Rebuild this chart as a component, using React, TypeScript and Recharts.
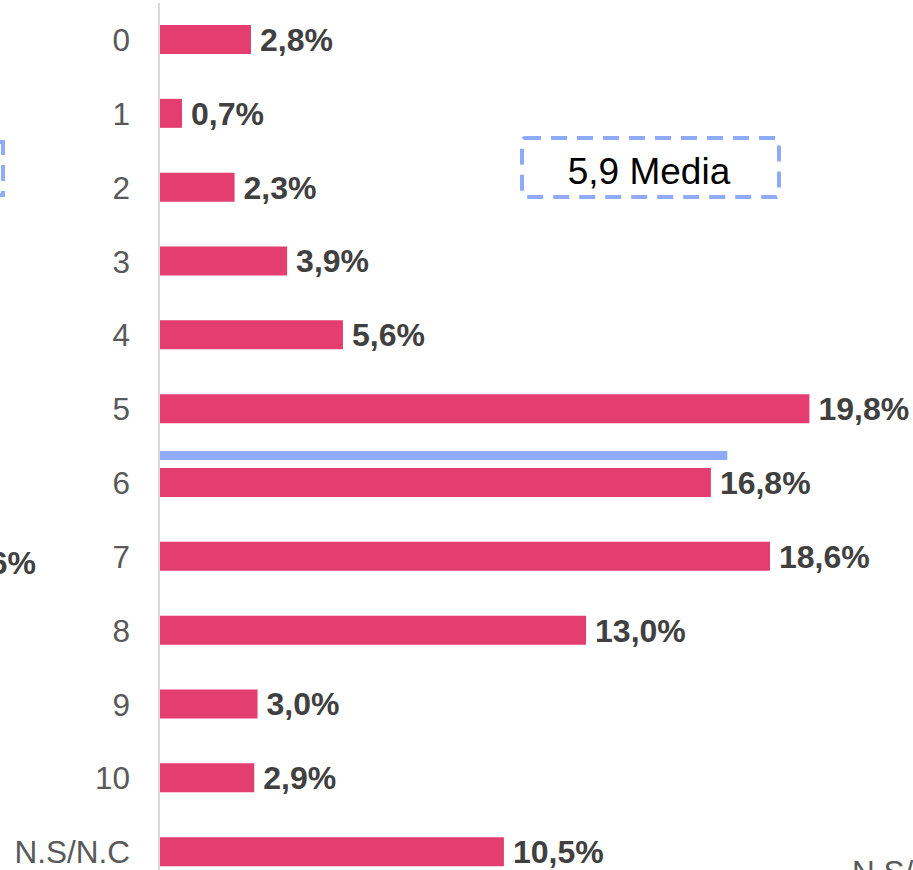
import React from "react";
import { BarChart, Bar, XAxis, YAxis, LabelList } from "recharts";

const categories = ["0", "1", "2", "3", "4", "5", "6", "7", "8", "9", "10", "N.S/N.C"];
const values = [2.8, 0.7, 2.3, 3.9, 5.6, 19.8, 16.8, 18.6, 13.0, 3.0, 2.9, 10.5];
// blue marker drawn just above the "6" bar (media 5,9)
const mediaMarker = [0, 0, 0, 0, 0, 0, 17.3, 0, 0, 0, 0, 0];
const mediaText = "5,9 Media";

const data = categories.map((name, i) => ({
  name,
  value: values[i],
  media: mediaMarker[i] || null,
}));

const PINK = "#E43E70";
const BLUE = "#8FAAF8";

function fmt(v: number): string {
  return `${v.toFixed(1).replace(".", ",")}%`;
}

function MediaShape(props: any) {
  const { x, y, width } = props;
  if (!width) return null;
  return <rect x={x} y={y - 17} width={width} height={9} fill={BLUE} />;
}

export default function App() {
  return (
    <div
      style={{
        position: "absolute",
        left: 0,
        top: 0,
        width: 913,
        height: 870,
        overflow: "hidden",
        background: "#fff",
        fontFamily: "'Liberation Sans', Arial, sans-serif",
      }}
    >
      <BarChart
        width={913}
        height={889}
        data={data}
        layout="vertical"
        margin={{ top: 3, right: 97, bottom: 0, left: 0 }}
        barSize={29}
        barGap={-29}
      >
        <XAxis type="number" domain={[0, 20]} hide />
        <YAxis
          type="category"
          dataKey="name"
          width={159}
          tickLine={false}
          tickMargin={23}
          axisLine={{ stroke: "#D9D9D9", strokeWidth: 2 }}
          tick={{ fontSize: 31.5, fill: "#595959" }}
        />
        <Bar dataKey="value" fill={PINK} isAnimationActive={false}>
          <LabelList
            dataKey="value"
            position="right"
            offset={9}
            formatter={(v: any) => fmt(Number(v))}
            style={{ fontSize: 32, fontWeight: 700, fill: "#404040" }}
          />
        </Bar>
        <Bar dataKey="media" fill={BLUE} shape={MediaShape} isAnimationActive={false} />
      </BarChart>

      {/* media box */}
      <svg
        width={913}
        height={870}
        style={{ position: "absolute", left: 0, top: 0, pointerEvents: "none" }}
      >
        <rect
          x={522}
          y={138}
          width={257}
          height={59}
          rx={3}
          fill="none"
          stroke={BLUE}
          strokeWidth={4}
          strokeDasharray="16 10"
        />
        <text x={649} y={184} textAnchor="middle" fontSize={37} fill="#000">
          {mediaText}
        </text>
        {/* fragments of neighbouring charts cut by the frame */}
        <path d="M0 142 H3 V195 H0" fill="none" stroke={BLUE} strokeWidth={4} strokeDasharray="16 10" />
        <text x={36} y={574} textAnchor="end" fontSize={32} fontWeight={700} fill="#404040">
          6%
        </text>
        <text x={852} y={883} fontSize={31.5} fill="#595959">
          N.S/N.C
        </text>
      </svg>
    </div>
  );
}
